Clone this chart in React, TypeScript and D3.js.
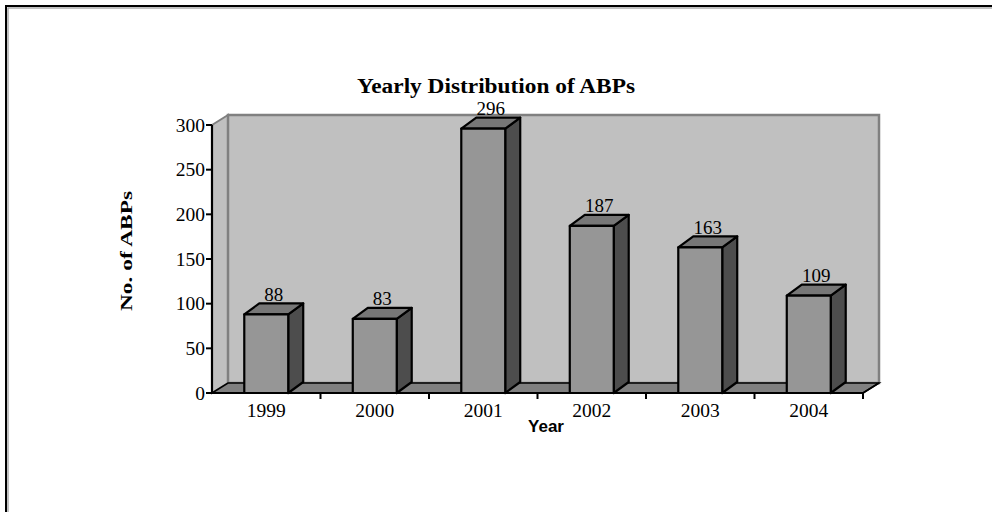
import React from "react";
import * as d3 from "d3";

const years = ["1999", "2000", "2001", "2002", "2003", "2004"];
const counts = [88, 83, 296, 187, 163, 109];
const yTicks = [0, 50, 100, 150, 200, 250, 300];
const title = "Yearly Distribution of ABPs";
const yLabel = "No. of ABPs";
const xLabel = "Year";

export default function App() {
  const W = 992, H = 512;
  const x0 = 212, x1 = 863, yBase = 393, yTop = 125;
  const dx = 16, dy = -10;
  const x = d3.scaleBand<string>().domain(years).range([x0, x1]).paddingInner(0.595).paddingOuter(0.2975);
  const xCat = d3.scaleBand<string>().domain(years).range([x0, x1]).padding(0);
  const y = d3.scaleLinear().domain([0, 300]).range([yBase, yTop]);
  const serif = "'Liberation Serif', 'Times New Roman', serif";
  const sans = "'Liberation Sans', Arial, sans-serif";
  const pts = (a: number[][]) => a.map((p) => p.join(",")).join(" ");
  const bx = dx - 1, by = dy - 1;

  return (
    <svg width={W} height={H} style={{ position: "absolute", left: 0, top: 0, background: "#fff" }}>
      {/* outer border */}
      <rect x={6} y={6} width={1200} height={1200} fill="none" stroke="#000" strokeWidth={2} />
      <rect x={8} y={8} width={1200} height={1200} fill="none" stroke="#999" strokeWidth={1.2} />

      <text x={496} y={93} textAnchor="middle" fontFamily={serif} fontWeight="bold" fontSize={20} textLength={278} lengthAdjust="spacingAndGlyphs">{title}</text>

      {/* walls */}
      <polygon points={pts([[x0, y(300)], [x0 + dx, y(300) + dy], [x0 + dx, yBase + dy], [x0, yBase]])} fill="#c0c0c0" stroke="#808080" strokeWidth={2} />
      <rect x={x0 + dx} y={y(300) + dy} width={x1 - x0} height={yBase - y(300)} fill="#c0c0c0" stroke="#808080" strokeWidth={2.5} />
      {/* floor */}
      <polygon points={pts([[x0, yBase], [x0 + dx, yBase + dy], [x1 + dx, yBase + dy], [x1, yBase]])} fill="#808080" stroke="#000" strokeWidth={1.5} />

      {/* bars */}
      {years.map((yr, i) => {
        const l = x(yr)!, r = l + x.bandwidth();
        const t = y(counts[i]);
        return (
          <g key={yr} stroke="#000" strokeWidth={2.2} strokeLinejoin="round">
            <polygon points={pts([[r, t], [r + bx, t + by], [r + bx, yBase + by], [r, yBase]])} fill="#4d4d4d" />
            <polygon points={pts([[l, t], [l + bx, t + by], [r + bx, t + by], [r, t]])} fill="#777777" />
            <rect x={l} y={t} width={r - l} height={yBase - t} fill="#969696" />
            <text x={(l + r) / 2 + bx / 2} y={t + by - 2.5} textAnchor="middle" fontFamily={serif} fontSize={19} stroke="none" fill="#000">{counts[i]}</text>
          </g>
        );
      })}

      {/* axes */}
      <line x1={x0} y1={yTop} x2={x0} y2={yBase} stroke="#000" strokeWidth={2.2} />
      <line x1={x0} y1={yBase} x2={x1} y2={yBase} stroke="#000" strokeWidth={2.2} />
      <line x1={x1} y1={yBase} x2={x1 + dx} y2={yBase + dy} stroke="#000" strokeWidth={1.5} />
      {yTicks.map((v) => (
        <g key={v}>
          <line x1={x0 - 6} x2={x0} y1={y(v)} y2={y(v)} stroke="#000" strokeWidth={2} />
          <text x={x0 - 7} y={y(v) + 6.5} textAnchor="end" fontFamily={serif} fontSize={19.5}>{v}</text>
        </g>
      ))}
      {years.map((yr) => (
        <g key={yr}>
          <line x1={xCat(yr)! + xCat.bandwidth()} x2={xCat(yr)! + xCat.bandwidth()} y1={yBase} y2={yBase + 6} stroke="#000" strokeWidth={2} />
          <text x={xCat(yr)! + xCat.bandwidth() / 2} y={417} textAnchor="middle" fontFamily={serif} fontSize={19.5}>{yr}</text>
        </g>
      ))}
      <text transform={`translate(132,251) rotate(-90)`} textAnchor="middle" fontFamily={serif} fontWeight="bold" fontSize={17} textLength={120} lengthAdjust="spacingAndGlyphs">{yLabel}</text>
      <text x={546} y={432} textAnchor="middle" fontFamily={sans} fontWeight="bold" fontSize={17}>{xLabel}</text>
    </svg>
  );
}
